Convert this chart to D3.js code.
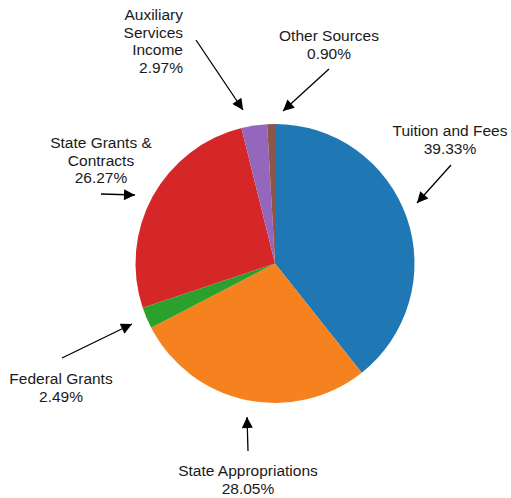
<!DOCTYPE html>
<html>
<head>
<meta charset="utf-8">
<script src="https://cdn.jsdelivr.net/npm/d3@7"></script>
<style>
  body { margin: 0; background: #fff; }
  text { font-family: "Liberation Sans", Arial, sans-serif; font-size: 15.5px; fill: #1a1a1a; }
</style>
</head>
<body>
<svg width="511" height="498"></svg>
<script>
(function(d3) {
    'use strict';

const categories = ["Tuition and Fees", "State Appropriations", "Federal Grants",
                    "State Grants & Contracts", "Auxiliary Services Income", "Other Sources"];
const shares = [39.33, 28.05, 2.49, 26.27, 2.97, 0.90];
const colors = ["#1f77b4", "#f5821f", "#2ca02c", "#d62728", "#9467bd", "#8c564b"];

// label lines (text as shown in the chart), plus where each callout sits
const labelLines = [
    ["Tuition and Fees"],
    ["State Appropriations"],
    ["Federal Grants"],
    ["State Grants &", "Contracts"],
    ["Auxiliary", "Services", "Income"],
    ["Other Sources"]
];
const callouts = [
    {x: 450, y: 136, anchor: "middle", from: [451, 165], to: [417, 203]},
    {x: 248, y: 476, anchor: "middle", from: [248, 451], to: [247, 417]},
    {x: 61,  y: 384, anchor: "middle", from: [62, 358],  to: [132, 324]},
    {x: 101, y: 148, anchor: "middle", from: [101, 194], to: [135, 195]},
    {x: 183, y: 20,  anchor: "end",    from: [196, 40],  to: [243, 110]},
    {x: 329, y: 41,  anchor: "middle", from: [329, 69],  to: [283, 111]}
];

const svg = d3.select("svg");
const cx = 275, cy = 263.5, radius = 139.5;
const lineH = 17.5;

const color = d3.scaleOrdinal().domain(categories).range(colors);
const pie = d3.pie().sort(null).value(d => d.value);
const arc = d3.arc().innerRadius(0).outerRadius(radius);

const data = categories.map((c, i) => ({name: c, value: shares[i]}));

svg.append("defs").append("marker")
    .attr("id", "head")
    .attr("viewBox", "0 0 10 10")
    .attr("refX", 10).attr("refY", 5)
    .attr("markerUnits", "userSpaceOnUse")
    .attr("markerWidth", 13).attr("markerHeight", 11)
    .attr("orient", "auto")
  .append("path")
    .attr("d", "M0,0L10,5L0,10Z")
    .attr("fill", "#000");

const g = svg.append("g").attr("transform", `translate(${cx},${cy})`);

g.selectAll("path")
    .data(pie(data))
    .enter()
    .append("path")
        .attr("d", arc)
        .attr("fill", d => color(d.data.name));

// callouts
const labels = svg.append("g");
data.forEach((d, i) => {
    const c = callouts[i];
    labels.append("line")
        .attr("x1", c.from[0]).attr("y1", c.from[1])
        .attr("x2", c.to[0]).attr("y2", c.to[1])
        .attr("stroke", "#000")
        .attr("stroke-width", 1.3)
        .attr("marker-end", "url(#head)");
    const lines = labelLines[i].concat([d3.format(".2f")(d.value) + "%"]);
    const t = labels.append("text")
        .attr("text-anchor", c.anchor)
        .attr("x", c.x).attr("y", c.y);
    lines.forEach((s, k) => {
        t.append("tspan")
            .attr("x", c.x)
            .attr("y", c.y + k * lineH)
            .text(s);
    });
});
}(d3));
</script>
</body>
</html>
